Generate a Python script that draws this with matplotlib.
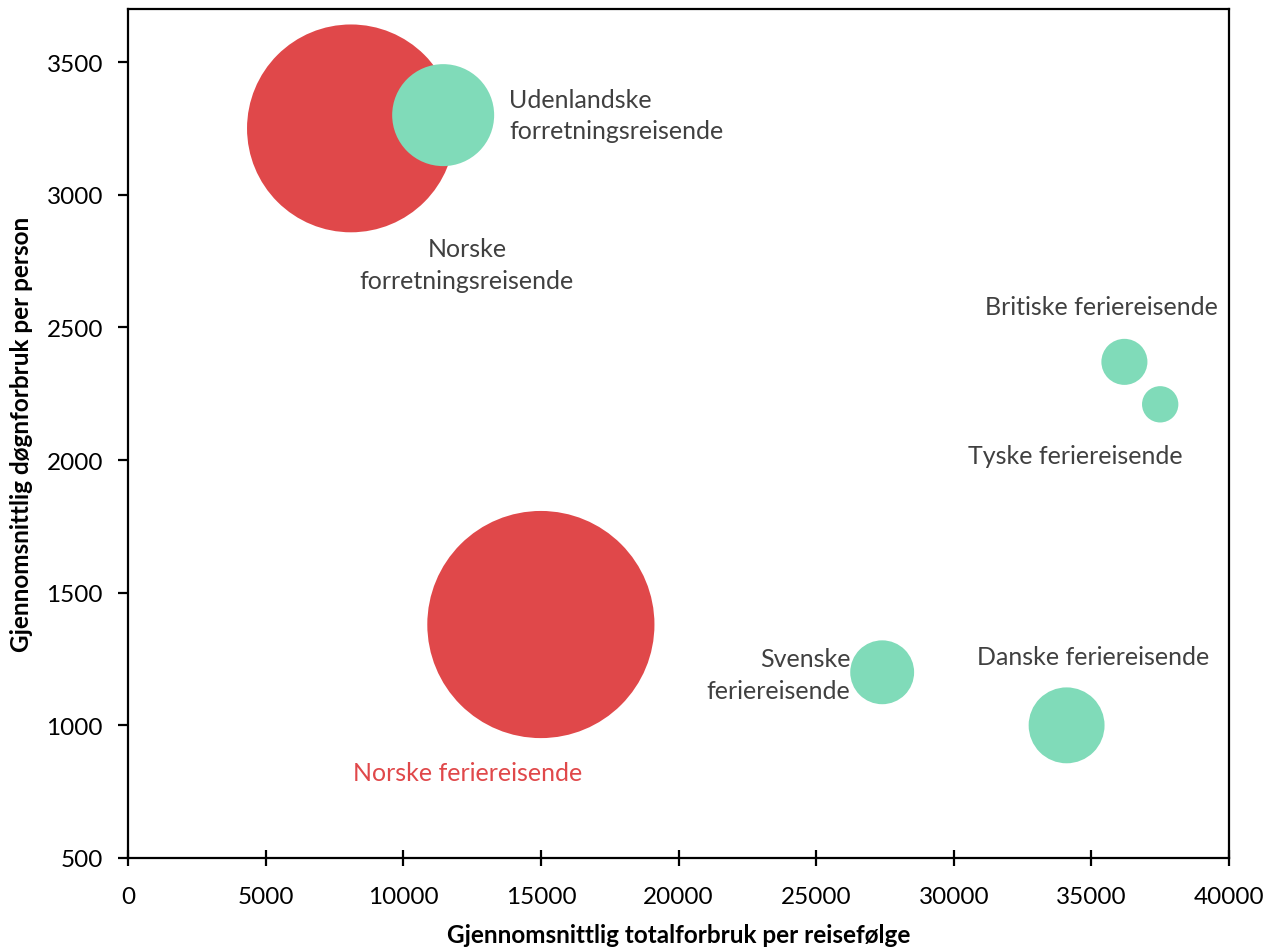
import matplotlib
matplotlib.use("Agg")
import matplotlib.pyplot as plt
import numpy as np

# Data
names = ["Norske\nforretningsreisende", "Udenlandske\nforretningsreisende",
         "Norske feriereisende", "Svenske\nferiereisende", "Danske feriereisende",
         "Britiske feriereisende", "Tyske feriereisende"]
total_spend = [8100, 11450, 15000, 27400, 34100, 36200, 37500]
daily_spend = [3250, 3300, 1380, 1200, 1000, 2370, 2210]
bubble_size = [108, 26, 129, 10.2, 14.4, 5.3, 3.3]
is_norwegian = [True, False, True, False, False, False, False]

RED = "#E0484A"
GREEN = "#80DBB9"
TXT = "#404040"

plt.rcParams['font.family'] = ['Lato', 'DejaVu Sans']

fig = plt.figure(figsize=(12.68, 9.53), dpi=100)
ax = fig.add_axes([128/1268, (953-859)/953, (1229-128)/1268, (859-10)/953])

scale = 100 * (1.44 ** 2)
sizes = np.array(bubble_size) * scale
colors = [RED if n else GREEN for n in is_norwegian]
ax.scatter(total_spend, daily_spend, s=sizes, c=colors, linewidths=0, zorder=3)

# label offsets (pixels) and alignment
offsets = [(116, -136, 'center'), (66, 0, 'left'), (-73, -148, 'center'),
           (-32, -2, 'right'), (27, 69, 'center'), (-23, 55, 'center'), (-85, -51, 'center')]
for name, x, y, nor, (dx, dy, ha) in zip(names, total_spend, daily_spend, is_norwegian, offsets):
    col = RED if (nor and 'ferie' in name) else TXT
    ax.annotate(name, (x, y), xytext=(dx, dy), textcoords='offset pixels',
                ha=ha, va='center', multialignment=ha, fontsize=18, color=col,
                linespacing=1.45, zorder=4)

ax.set_xlim(0, 40000)
ax.set_ylim(500, 3700)
ax.set_xticks(np.arange(0, 40001, 5000))
ax.set_yticks(np.arange(500, 3501, 500))
for sp in ax.spines.values():
    sp.set_linewidth(1.6)
    sp.set_color('black')
ax.tick_params(axis='both', direction='out', length=7, width=1.6, labelsize=17.5, colors='black', pad=11)
ax.tick_params(axis='x', direction='inout', length=12, pad=14)

ax.set_xlabel("Gjennomsnittlig totalforbruk per reisefølge", fontsize=17.5, fontweight='bold', labelpad=12)
ax.set_ylabel("Gjennomsnittlig døgnforbruk per person", fontsize=17.5, fontweight='bold', labelpad=10)

fig.savefig("out.png", dpi=100)
